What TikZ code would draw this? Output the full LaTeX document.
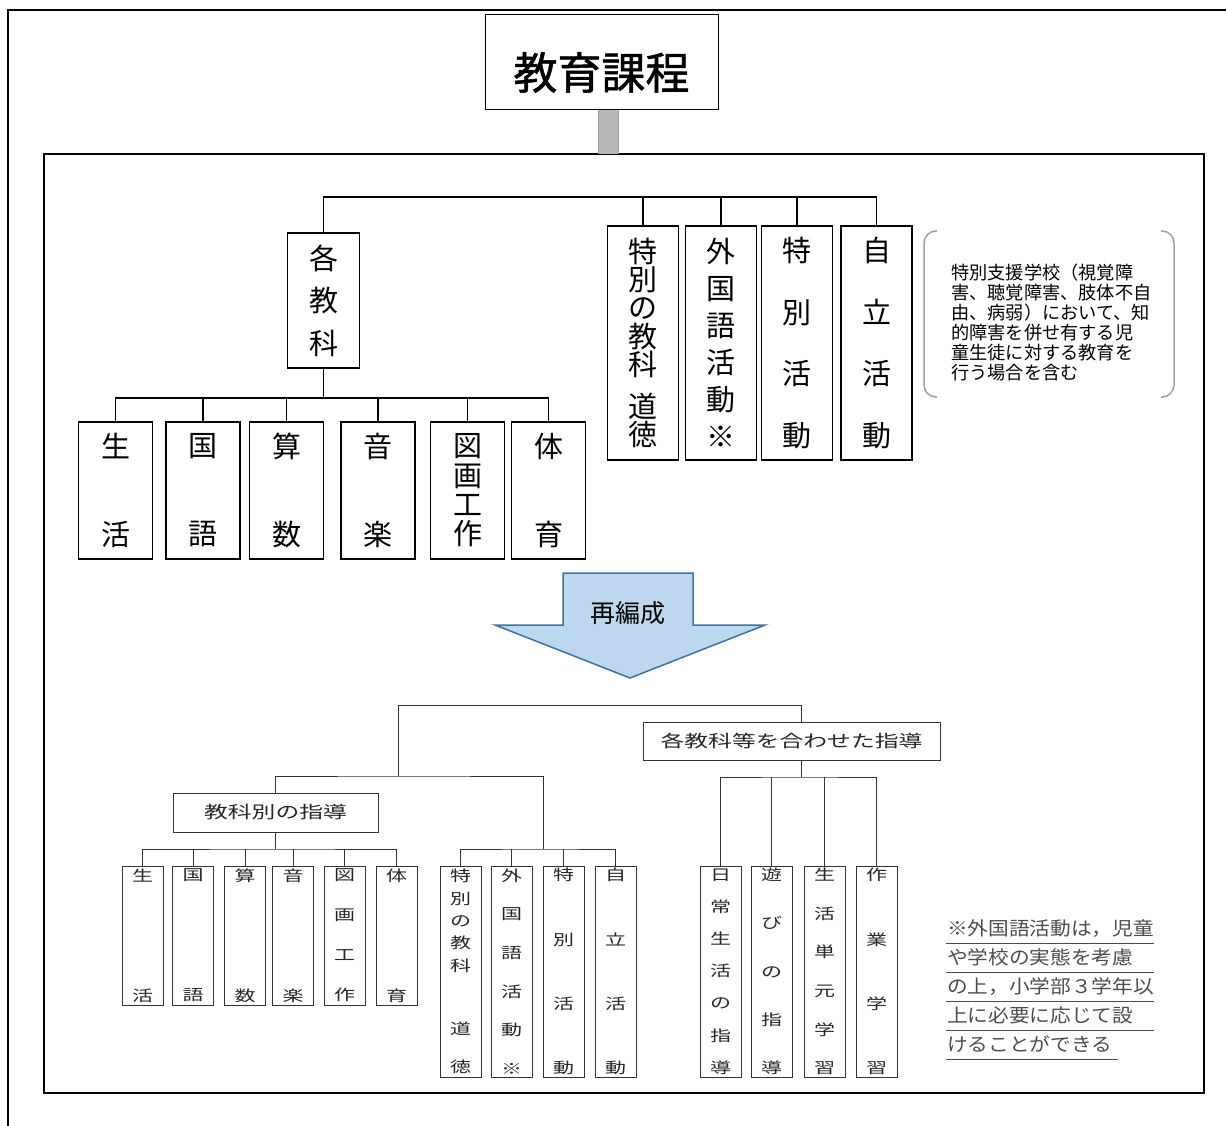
\documentclass[tikz,border=0pt]{standalone}
\usepackage{fontspec}
\setmainfont{Noto Sans CJK JP}
\newfontfamily\widejp[FakeStretch=1.4]{Noto Sans CJK JP}
\newfontfamily\notejp[FakeStretch=1.1]{Noto Sans CJK JP}
\newfontfamily\titlejp[FakeBold=1.2]{Noto Sans CJK JP}
\definecolor{arrowfill}{HTML}{BDD7EE}
\definecolor{arrowline}{HTML}{41719C}

\begin{document}
\begin{tikzpicture}[x=1pt,y=-1pt,
  upbox/.style={draw,line width=1.8pt,inner sep=0pt,align=center,minimum width=72pt},
  lowbox/.style={draw=black!80,line width=0.9pt,inner sep=0pt,align=center,minimum width=41pt,text=black!85},
  upline/.style={line width=1.8pt},
  lowline/.style={line width=0.9pt,black!80},
  upfont/.style={font=\fontsize{29}{#1}\selectfont},
  lowfont/.style={font=\widejp\fontsize{15}{#1}\selectfont}]
  \useasboundingbox (0,0) rectangle (1226,1126);

  % frames
  \draw[line width=2pt] (8,1126) -- (8,10) -- (1226,10);
  \draw[line width=2.5pt] (44,154) rectangle (1204,1093);

  \node[draw,line width=1pt,minimum width=233pt,minimum height=95pt,font=\titlejp\fontsize{44}{44}\selectfont] (title) at (601.5,62.5) {\raisebox{-10pt}[\height][\depth]{教育課程}};
  \draw[draw=gray!80,double=gray!55,double distance=19pt,line width=1pt] ([xshift=7pt]title.south) -- ([xshift=7pt]title.south |- 0,154);

  % upper tree
  \node[upbox,minimum height=135pt,upfont=42.5] (kak) at (323.5,300.5) {各\\教\\科};
  \foreach \n/\x/\s/\txt in {sei/115.5/88/{生\\活}, kok/203/88/{国\\語}, san/286.5/88/{算\\数},
      ong/378/88/{音\\楽}, zuk/467.5/29.3/{図\\画\\工\\作}, tai/548.5/88/{体\\育}}
    \node[upbox,minimum width=74pt,minimum height=137pt,upfont=\s] (\n) at (\x,490.5) {\txt};
  \node[upbox,minimum width=71pt,minimum height=234pt,upfont=28.3] (dot) at (643,343) {特\\別\\の\\教\\科\\[14pt]道\\徳};
  \node[upbox,minimum width=71pt,minimum height=234pt,upfont=37] (gai) at (721,343) {外\\国\\語\\活\\動\\※};
  \node[upbox,minimum width=71pt,minimum height=234pt,upfont=61.7] (tok) at (797,343) {特\\別\\活\\動};
  \node[upbox,minimum width=71pt,minimum height=234pt,upfont=61.7] (jir) at (876.5,343) {自\\立\\活\\動};

  \draw[upline] (kak.north) |- (jir.north |- 0,197) -- (jir.north);
  \foreach \n in {dot,gai,tok}
    \draw[upline] (\n.north) -- (\n.north |- 0,197);
  \draw[upline] (kak.south) -- (kak.south |- 0,398);
  \draw[upline] (sei.north) |- (tai.north |- 0,398) -- (tai.north);
  \foreach \n in {kok,san,ong,zuk}
    \draw[upline] (\n.north) -- (\n.north |- 0,398);

  \draw[gray!75,line width=1.5pt,rounded corners=12pt] (937,231) -| (924,397) -- (937,397);
  \draw[gray!75,line width=1.5pt,rounded corners=12pt] (1161,231) -| (1174,397) -- (1161,397);
  \node[anchor=north west,align=left,inner sep=0pt,font=\fontsize{18.2}{20}\selectfont] (note) at (951,264)
    {特別支援学校（視覚障\\害、聴覚障害、肢体不自\\由、病弱）において、知\\的障害を併せ有する児\\童生徒に対する教育を\\行う場合を含む};

  % arrow
  \draw[fill=arrowfill,draw=arrowline,line width=1.5pt] (563,573) -- (693,573) -- (693,625) -- (765,625)
    -- (630,678) -- (495,625) -- (563,625) -- cycle;
  \node[font=\fontsize{25}{25}\selectfont] (saihen) at (628,613) {再編成};

  % lower tree
  \node[lowbox,minimum width=205pt,minimum height=39pt,font=\widejp\fontsize{17}{17}\selectfont] (shido) at (275.5,812.5) {教科別の指導};
  \node[lowbox,minimum width=297pt,minimum height=38pt,font=\widejp\fontsize{17}{17}\selectfont] (awase) at (791.5,741) {各教科等を合わせた指導};
  \foreach \n/\x/\s/\txt in {l1/142.5/120/{生\\活}, l2/193/120/{国\\語}, l3/245/120/{算\\数},
      l4/293/120/{音\\楽}, l5/344.5/40/{図\\画\\工\\作}, l6/396.5/120/{体\\育}}
    \node[lowbox,minimum height=139pt,lowfont=\s] (\n) at (\x,935.5) {\txt};
  \node[lowbox,minimum height=211pt,lowfont=22.3] (l7) at (460.5,971.5) {特\\別\\の\\教\\科\\[41pt]道\\[16pt]徳};
  \node[lowbox,minimum height=211pt,lowfont=38.6] (l8) at (511.5,971.5) {外\\国\\語\\活\\動\\※};
  \node[lowbox,minimum height=211pt,lowfont=64.3] (l9) at (563.5,971.5) {特\\別\\活\\動};
  \node[lowbox,minimum height=211pt,lowfont=64.3] (l10) at (615.5,971.5) {自\\立\\活\\動};
  \node[lowbox,minimum height=211pt,lowfont=32.2] (r1) at (720.5,971.5) {日\\常\\生\\活\\の\\指\\導};
  \node[lowbox,minimum height=211pt,lowfont=48.25] (r2) at (771.5,971.5) {遊\\び\\の\\指\\導};
  \node[lowbox,minimum height=211pt,lowfont=38.6] (r3) at (824.5,971.5) {生\\活\\単\\元\\学\\習};
  \node[lowbox,minimum height=211pt,lowfont=64.3] (r4) at (876.5,971.5) {作\\業\\学\\習};

  \coordinate (split) at (398,776);
  \coordinate (split1) at (shido.south |- 0,849);
  \coordinate (split2) at (543,849);
  \coordinate (awtop) at ([xshift=10pt]awase.north);
  \coordinate (awbot) at ([xshift=10pt]awase.south);
  \coordinate (split3) at (awbot |- 0,777);
  \draw[lowline] (split) |- (awtop |- 0,705) -- (awtop);
  \draw[lowline] (shido.north) |- (split) -| (split2);
  \draw[lowline] (shido.south) -- (split1);
  \draw[lowline] (l1.north) |- (split1) -| (l6.north);
  \foreach \n in {l2,l3,l4,l5}
    \draw[lowline] (\n.north) -- (\n.north |- split1);
  \draw[lowline] (l7.north) |- (split2) -| (l10.north);
  \foreach \n in {l8,l9}
    \draw[lowline] (\n.north) -- (\n.north |- split2);
  \draw[lowline] (awbot) -- (split3);
  \draw[lowline] (r1.north) |- (split3) -| (r4.north);
  \foreach \n in {r2,r3}
    \draw[lowline] (\n.north) -- (\n.north |- split3);

  % note
  \node[anchor=north west,align=left,inner sep=0pt,text=black!70,font=\notejp\fontsize{18.8}{29}\selectfont] (foot) at (947,919)
    {※外国語活動は，児童\\や学校の実態を考慮\\の上，小学部３学年以\\上に必要に応じて設\\けることができる};
  \foreach \y in {943,972,1001,1030}
    \draw[black!70,line width=0.9pt] (946,\y) -- (1154,\y);
  \draw[black!70,line width=0.9pt] (946,1059) -- (1118,1059);
\end{tikzpicture}
\end{document}
